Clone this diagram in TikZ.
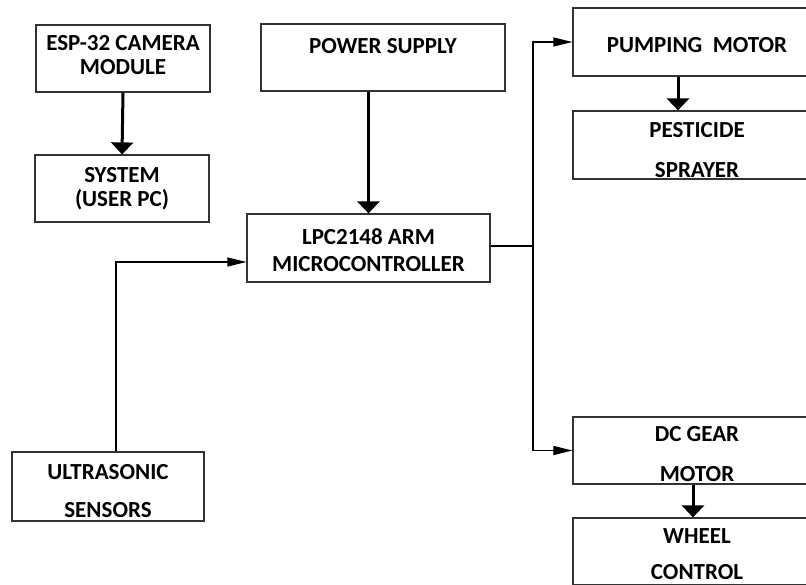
\documentclass[tikz,border=0pt]{standalone}
\usepackage{fontspec}
\setmainfont{Carlito}
\usepackage{xcolor}
\usepackage{tikz}
\usetikzlibrary{positioning,arrows.meta}
\providecommand{\topstrut}[1]{\rule{0pt}{#1}}

\begin{document}
\begin{tikzpicture}[x=1pt, y=-1pt,
  blockbox/.style={draw=black!80, line width=1.2pt, align=center, inner sep=0pt,
    minimum height=67pt, font=\fontsize{23}{24}\selectfont\bfseries},
  wideline/.style={line width=3pt, -{Triangle[width=22pt,length=12pt]}},
  thinline/.style={line width=1.1pt, -{Triangle[width=9pt,length=19pt]}}
]
\useasboundingbox (0,0) rectangle (806,585);
\clip (0,0) rectangle (806,585);

\node[blockbox, minimum width=174pt] (esp) at (123,58.5) {ESP-32 CAMERA\\MODULE\rule[-8pt]{0pt}{0pt}};
\node[blockbox, minimum width=174pt] (sys) at (122,188.5) {SYSTEM\\(USER PC)};
\node[blockbox, minimum width=244pt] (power) at (383,57.5) {POWER SUPPLY\\\mbox{}};
\node[blockbox, minimum width=243pt, minimum height=68pt] (lpc) at (368.5,248) {\topstrut{20pt}LPC2148 ARM\\[3pt]MICROCONTROLLER};
\node[blockbox, minimum width=192pt, minimum height=69pt] (ultra) at (108,486.5) {\topstrut{25pt}ULTRASONIC\\[14pt]SENSORS};

\node[blockbox, minimum width=248pt, minimum height=68pt] (pump) at (697,42) {\topstrut{22pt}PUMPING\ \ MOTOR};
\node[blockbox, minimum width=248pt, minimum height=68pt] (pest) at (697,145) {\topstrut{25pt}PESTICIDE\\[16pt]SPRAYER};
\node[blockbox, minimum width=248pt] (dcmotor) at (697,450.5) {\topstrut{23pt}DC GEAR\\[16pt]MOTOR};
\node[blockbox, minimum width=248pt] (wheel) at (697,551.5) {\topstrut{20pt}WHEEL\\[12pt]CONTROL};

\coordinate (split) at (533,246);

\draw[wideline] (esp.south) -- (sys.north);
\draw[wideline] (power.south -| lpc.north) -- (lpc.north);
\draw[wideline] ([xshift=-19pt]pump.south) -- ([xshift=-19pt]pest.north);
\draw[wideline] ([xshift=-4pt]dcmotor.south) -- ([xshift=-4pt]wheel.north);

\draw[line width=1.1pt] (lpc.east |- split) -- (split);
\draw[thinline] (split) |- (pump.west);
\draw[thinline] (split) |- (dcmotor.west);
\draw[thinline] ([xshift=8pt]ultra.north) |- ([yshift=-14pt]lpc.west);
\end{tikzpicture}
\end{document}
